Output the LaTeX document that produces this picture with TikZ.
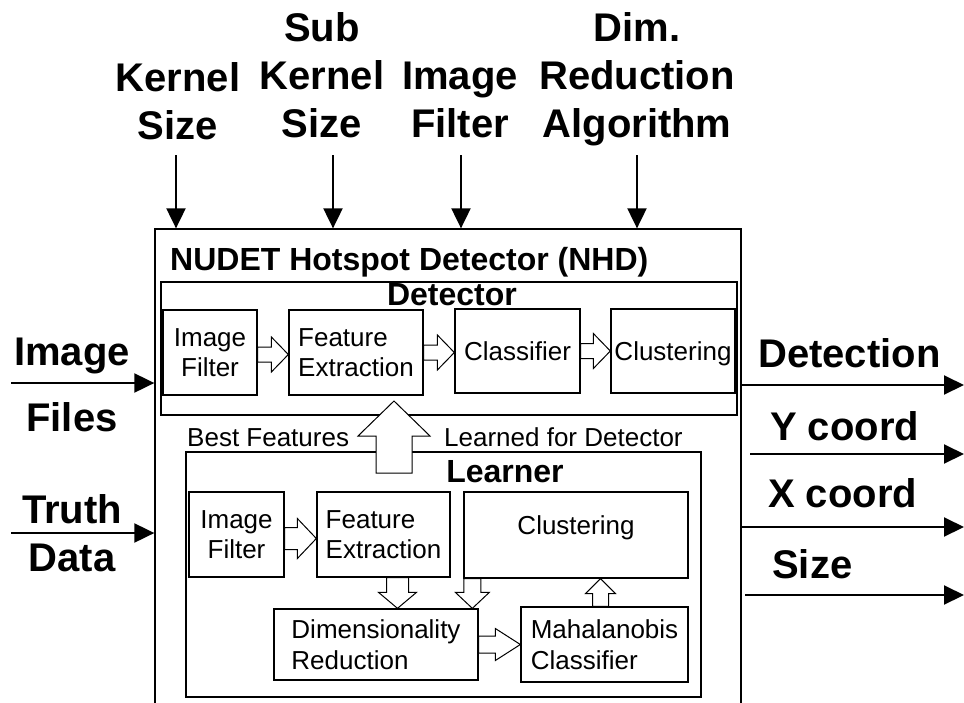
\documentclass[tikz,border=0pt]{standalone}
\usepackage{fontspec}
\setmainfont{Liberation Sans}
\usetikzlibrary{arrows.meta,calc}

\tikzset{
  lbl/.style = {align=center, inner sep=0pt,
    font=\fontsize{40}{48}\selectfont\bfseries},
  ttl/.style = {inner sep=0pt, font=\fontsize{32}{36}\selectfont\bfseries},
  txt/.style = {inner sep=0pt, font=\fontsize{26}{30.5}\selectfont},
  blk/.style = {txt, draw=black, line width=1.3pt, align=left},% box, text left
  blk_c/.style = {blk, align=center},% box, text centred
  blk_one/.style = {blk_c, text height=19pt, text depth=0pt},% box, one line
  frame/.style = {draw=black, line width=1.3pt, inner sep=0pt},
  hollow/.style = {draw=black, fill=white, line width=1pt, line join=miter},
  conn/.style = {->, line width=2pt}
}

% hollow arrows: from, to, shaft half width, head half width, head length
\newcommand{\harr}[5]{\draw[hollow] let \p1=(#1), \p2=(#2) in
  (\x1,\y1+#3pt) -- (\x2-#5pt,\y1+#3pt) -- (\x2-#5pt,\y1+#4pt) -- (\x2,\y1)
  -- (\x2-#5pt,\y1-#4pt) -- (\x2-#5pt,\y1-#3pt) -- (\x1,\y1-#3pt) -- cycle;}
\newcommand{\darr}[5]{\draw[hollow] let \p1=(#1), \p2=(#2) in
  (\x1+#3pt,\y1) -- (\x1+#3pt,\y2+#5pt) -- (\x1+#4pt,\y2+#5pt) -- (\x1,\y2)
  -- (\x1-#4pt,\y2+#5pt) -- (\x1-#3pt,\y2+#5pt) -- (\x1-#3pt,\y1) -- cycle;}
\newcommand{\uarr}[5]{\draw[hollow] let \p1=(#1), \p2=(#2) in
  (\x1+#3pt,\y1) -- (\x1+#3pt,\y2-#5pt) -- (\x1+#4pt,\y2-#5pt) -- (\x1,\y2)
  -- (\x1-#4pt,\y2-#5pt) -- (\x1-#3pt,\y2-#5pt) -- (\x1-#3pt,\y1) -- cycle;}

\begin{document}
\begin{tikzpicture}[x=1pt,y=1pt,>={Triangle[length=20pt,width=19pt]}]
\useasboundingbox (0,0) rectangle (964,-702);
\clip (0,0) rectangle (964,-702);

% parameters on top
\node [lbl, anchor=north] (p_ks) at (178,-62) {Kernel\\Size};
\node [lbl, anchor=north] (p_sks) at (322,-12) {Sub\\Kernel\\Size};
\node [lbl, anchor=north] (p_if) at (460,-62) {Image\\Filter};
\node [lbl, anchor=north] (p_dra) at (637,-12) {Dim.\\Reduction\\Algorithm};

% main frame
\node [frame, minimum width=586pt, minimum height=483pt] (nhd) at (448,-470.5) {};
\node [ttl, anchor=base west] (nhd_t) at (170,-270) {NUDET Hotspot Detector (NHD)};

% detector
\node [frame, minimum width=576pt, minimum height=133pt] (d_box) at (449,-348.5) {};
\node [ttl, anchor=base] (d_t) at (452,-305) {Detector};
\node [blk_c, minimum width=94pt, minimum height=85pt] (d_if) at (210,-352.5) {Image\\Filter};
\node [blk, minimum width=134pt, minimum height=85pt] (d_fe) at (356,-352.5) {Feature\\Extraction};
\node [blk_one, minimum width=125pt, minimum height=84pt] (d_cls) at (517.5,-351) {Classifier};
\node [blk_one, minimum width=124pt, minimum height=84pt] (d_clu) at (673,-351) {Clustering};

% learner
\node [frame, minimum width=515pt, minimum height=245pt] (l_box) at (443.5,-574.5) {};
\node [ttl, anchor=base] (l_t) at (505,-482) {Learner};
\node [blk_c, minimum width=95pt, minimum height=85pt] (l_if) at (236.5,-534.5) {Image\\Filter};
\node [blk, minimum width=133pt, minimum height=85pt] (l_fe) at (383.5,-534.5) {Feature\\Extraction};
\node [blk_c, minimum width=224pt, minimum height=86pt, text depth=19pt] (l_clu) at (576,-535) {Clustering};
\node [blk, minimum width=204pt, minimum height=71pt] (dr) at (376,-644.5) {Dimensionality\\Reduction};
\node [blk, minimum width=167pt, minimum height=75pt] (mahal) at (604.5,-644.5) {Mahalanobis\\Classifier};

\node [txt, anchor=base west] (bf) at (187,-446) {Best Features};
\node [txt, anchor=base west] (lfd) at (444,-446) {Learned for Detector};

% hollow arrows
\harr{[yshift=-2pt]d_if.east}{d_fe.west}{7.5}{17.5}{17}
\harr{d_fe.east}{d_cls.west}{7.5}{17.5}{17}
\harr{d_cls.east}{d_clu.west}{7.5}{17.5}{17}
\harr{[yshift=-4pt]l_if.east}{l_fe.west}{11}{20}{19}
\harr{dr.east}{mahal.west}{8.5}{16}{25}
\darr{[xshift=14pt]l_fe.south}{dr.north}{11}{19}{16}
\darr{[xshift=9pt]l_clu.south west}{dr.north}{8.5}{17}{16}
\uarr{[xshift=-4pt]mahal.north}{l_clu.south}{8}{15}{15}
\coordinate (bf_tail) at (394,-473);
\coordinate (bf_tip) at (394,-401);
\uarr{bf_tail}{bf_tip}{18}{36}{35}

% inputs
\coordinate (ks_in) at (176,-155);
\coordinate (sks_in) at (333,-155);
\coordinate (if_in) at (461,-155);
\coordinate (dra_in) at (637,-155);
\foreach \c in {ks_in,sks_in,if_in,dra_in}
  \draw[conn] (\c) -- (\c |- nhd.north);

\node [lbl, anchor=north, font=\fontsize{40}{66}\selectfont\bfseries] (img_t) at (72,-338) {Image\\Files};
\node [lbl, anchor=north] (tru_t) at (72,-494) {Truth\\Data};
\coordinate (img_src) at (11,-383);
\coordinate (tru_src) at (11,-533);
\draw[conn] (img_src) -- (img_src -| nhd.west);
\draw[conn] (tru_src) -- (tru_src -| nhd.west);

% outputs
\node [lbl, anchor=base west] (det_t) at (758,-367) {Detection};
\node [lbl, anchor=base west] (y_t) at (770,-440) {Y coord};
\node [lbl, anchor=base west] (x_t) at (768,-507) {X coord};
\node [lbl, anchor=base west] (s_t) at (772,-578) {Size};
\coordinate (det_out) at (964,-385);
\coordinate (y_src) at (750,-454);
\coordinate (y_out) at (964,-454);
\coordinate (x_out) at (964,-527);
\coordinate (s_src) at (745,-595);
\coordinate (s_out) at (964,-595);
\draw[conn] (det_out -| nhd.east) -- (det_out);
\draw[conn] (y_src) -- (y_out);
\draw[conn] (x_out -| nhd.east) -- (x_out);
\draw[conn] (s_src) -- (s_out);
\end{tikzpicture}
\end{document}
